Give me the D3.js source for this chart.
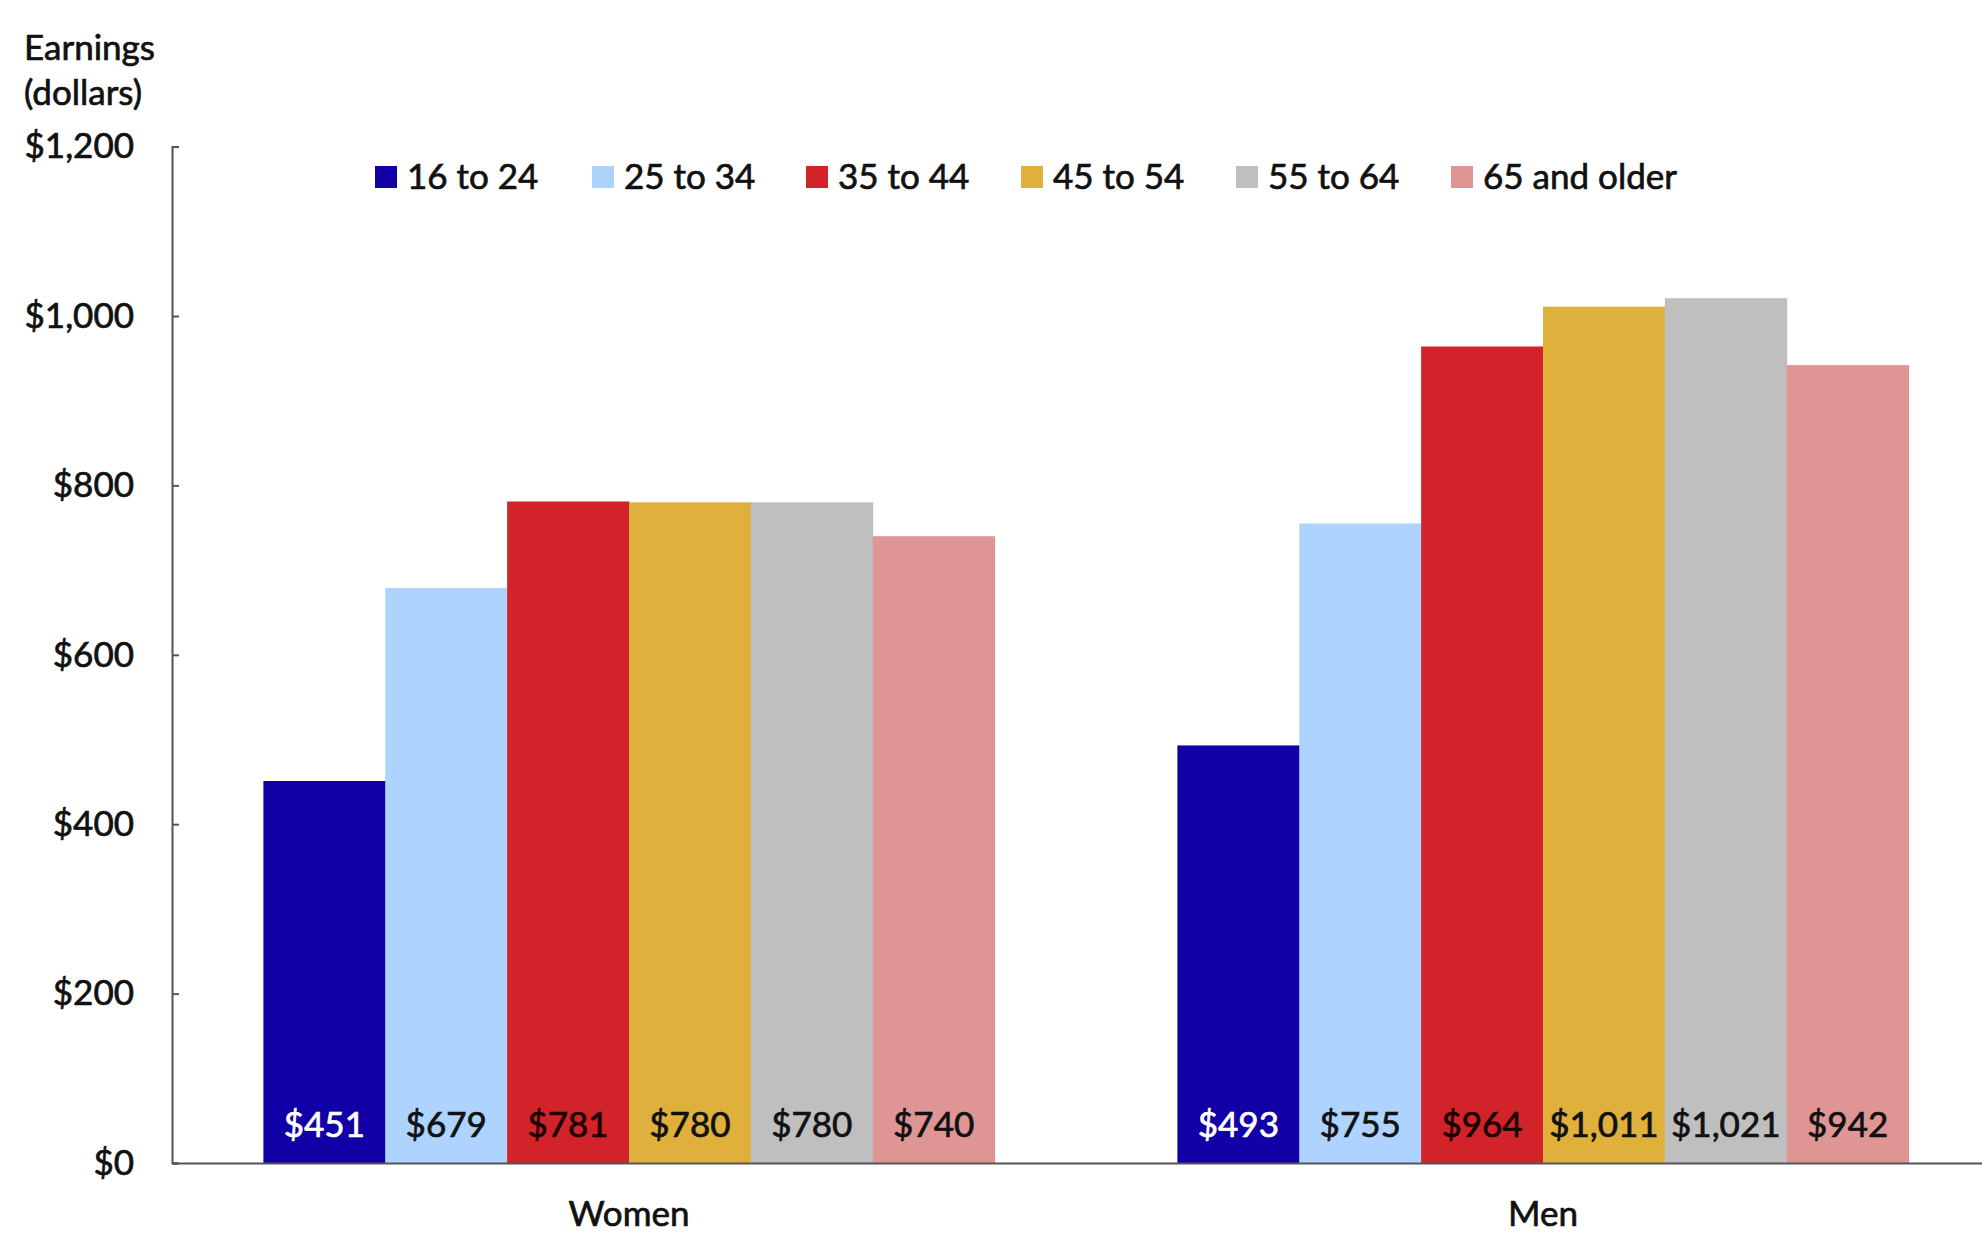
<!DOCTYPE html>
<html>
<head>
<meta charset="utf-8">
<script src="https://cdn.jsdelivr.net/npm/d3@7"></script>
<style>
  html, body { margin: 0; padding: 0; background: #ffffff; }
  svg { display: block; font-family: Lato, "Open Sans", sans-serif; }
  text.t { stroke-width: 0.7px; }
</style>
</head>
<body>
<svg id="chart" width="1982" height="1237"></svg>
<script>
const groups = ["Women", "Men"];
const ageGroups = ["16 to 24", "25 to 34", "35 to 44", "45 to 54", "55 to 64", "65 and older"];
const womenValues = [451, 679, 781, 780, 780, 740];
const menValues = [493, 755, 964, 1011, 1021, 942];
const colors = ["#1000a6", "#add3fe", "#d2232a", "#dfb03b", "#bfbfbf", "#e09595"];
const labelColors = ["#ffffff", "#111111", "#1a0000", "#111111", "#111111", "#111111"];
const yTicks = [0, 200, 400, 600, 800, 1000, 1200];

const seriesByGroup = { "Women": womenValues, "Men": menValues };
const FS = 35;

const svg = d3.select("#chart");
const axisX = 172, baseY = 1163, topY = 146.6;

const x0 = d3.scaleBand().domain(groups).range([axisX, 2000]).paddingInner(0.2).paddingOuter(0.1);
const x1 = d3.scaleBand().domain(ageGroups).range([0, x0.bandwidth()]).padding(0);
const y = d3.scaleLinear().domain([0, 1200]).range([baseY, topY]);
const color = d3.scaleOrdinal().domain(ageGroups).range(colors);
const fmt = v => "$" + d3.format(",")(v);

// bars
const g = svg.append("g");
groups.forEach(grp => {
  const gg = g.append("g").attr("transform", `translate(${x0(grp)},0)`);
  const data = ageGroups.map((a, i) => ({ age: a, v: seriesByGroup[grp][i], i }));
  gg.selectAll("rect").data(data).join("rect")
    .attr("x", d => x1(d.age))
    .attr("y", d => y(d.v))
    .attr("width", x1.bandwidth() + 0.5)
    .attr("height", d => y(0) - y(d.v))
    .attr("fill", d => color(d.age));
  gg.selectAll("text").data(data).join("text")
    .attr("class", "t")
    .attr("x", d => x1(d.age) + x1.bandwidth() / 2)
    .attr("y", y(0) - 38)
    .attr("dy", "0.35em")
    .attr("text-anchor", "middle")
    .attr("font-size", FS)
    .attr("fill", d => labelColors[d.i])
    .attr("stroke", d => labelColors[d.i])
    .text(d => fmt(d.v));
});

// y axis
const yAxis = d3.axisLeft(y).tickValues(yTicks).tickFormat(fmt).tickSize(-7).tickPadding(38);
const ya = svg.append("g").attr("transform", `translate(${axisX},0)`).call(yAxis);
ya.select(".domain").attr("stroke", "#555").attr("stroke-width", 2);
ya.selectAll(".tick line").attr("stroke", "#555").attr("stroke-width", 2);
ya.selectAll(".tick text").attr("class", "t").attr("font-size", FS).attr("fill", "#111").attr("stroke", "#111").attr("font-family", "Lato, sans-serif");

// x axis
const xAxis = d3.axisBottom(x0).tickSize(0).tickPadding(38);
const xa = svg.append("g").attr("transform", `translate(0,${baseY})`).call(xAxis);
xa.select(".domain").attr("stroke", "#555").attr("stroke-width", 2);
xa.selectAll(".tick text").attr("class", "t").attr("font-size", FS).attr("fill", "#111").attr("stroke", "#111").attr("font-family", "Lato, sans-serif");

// y title
svg.append("text").attr("class", "t").attr("x", 24).attr("y", 48).attr("dy", "0.35em").attr("font-size", FS).attr("fill", "#111").attr("stroke", "#111").text("Earnings");
svg.append("text").attr("class", "t").attr("x", 24).attr("y", 93).attr("dy", "0.35em").attr("font-size", FS).attr("fill", "#111").attr("stroke", "#111").text("(dollars)");

// legend
const legendX = [375, 592, 806, 1021, 1236, 1451];
const lg = svg.append("g").selectAll("g").data(ageGroups).join("g")
  .attr("transform", (d, i) => `translate(${legendX[i]},177)`);
lg.append("rect").attr("x", 0).attr("y", -11).attr("width", 22).attr("height", 22).attr("fill", d => color(d));
lg.append("text").attr("class", "t").attr("x", 32).attr("dy", "0.35em").attr("font-size", FS).attr("fill", "#111").attr("stroke", "#111").text(d => d);
</script>
</body>
</html>
